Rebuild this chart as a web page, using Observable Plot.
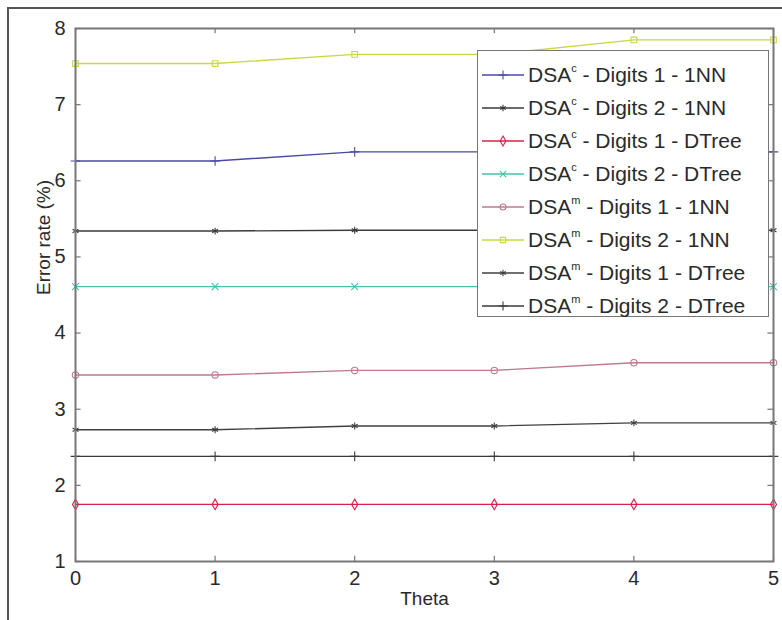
<!DOCTYPE html>
<html><head><meta charset="utf-8">
<script src="https://cdn.jsdelivr.net/npm/d3@7"></script>
<script src="https://cdn.jsdelivr.net/npm/@observablehq/plot@0.6"></script>
<style>
html,body{margin:0;padding:0;background:#fff;}
#wrap{position:relative;width:782px;height:620px;overflow:hidden;font-family:"Liberation Sans",Arial,sans-serif;}
#border{position:absolute;left:7px;top:7px;width:800px;height:640px;border-left:2px solid #555;border-top:2px solid #555;}
#chart{position:absolute;left:0;top:0;}
#legend{position:absolute;left:477px;top:50px;width:292px;height:267px;background:#fff;border:1.5px solid #777;box-sizing:border-box;padding-top:7px;}
.row{height:33px;display:flex;align-items:center;font-size:21px;color:#2a2a2a;white-space:nowrap;}
.row svg{margin-left:4px;margin-right:4px;flex:none;}
.row sup{font-size:11px;vertical-align:10px;line-height:0;}
</style>
</head><body>
<div id="wrap"><div id="border"></div><div id="chart"></div><div id="legend"></div></div>
<script>
const theta = [0, 1, 2, 3, 4, 5];
const xTicks = [0, 1, 2, 3, 4, 5];
const yTicks = [1, 2, 3, 4, 5, 6, 7, 8];
const methods = ["c", "c", "c", "c", "m", "m", "m", "m"];
const restNames = ["Digits 1 - 1NN", "Digits 2 - 1NN", "Digits 1 - DTree", "Digits 2 - DTree",
                   "Digits 1 - 1NN", "Digits 2 - 1NN", "Digits 1 - DTree", "Digits 2 - DTree"];
const seriesNames = restNames.map((r, i) => "DSA" + methods[i] + " - " + r);
const colors = ["#4a4aa8", "#3a3a3a", "#d8204c", "#46c2ae", "#c07890", "#cad844", "#404040", "#3a3a3a"];
const symbols = ["plus", "asterisk", "diamond", "times", "circle", "square", "asterisk", "plus"];

const dsaC_d1_1nn   = [6.26, 6.26, 6.38, 6.38, 6.38, 6.38];
const dsaC_d2_1nn   = [5.34, 5.34, 5.35, 5.35, 5.35, 5.35];
const dsaC_d1_dtree = [1.75, 1.75, 1.75, 1.75, 1.75, 1.75];
const dsaC_d2_dtree = [4.61, 4.61, 4.61, 4.61, 4.61, 4.61];
const dsaM_d1_1nn   = [3.45, 3.45, 3.51, 3.51, 3.61, 3.61];
const dsaM_d2_1nn   = [7.54, 7.54, 7.66, 7.66, 7.85, 7.85];
const dsaM_d1_dtree = [2.73, 2.73, 2.78, 2.78, 2.82, 2.82];
const dsaM_d2_dtree = [2.38, 2.38, 2.38, 2.38, 2.38, 2.38];

const allSeries = [dsaC_d1_1nn, dsaC_d2_1nn, dsaC_d1_dtree, dsaC_d2_dtree,
                   dsaM_d1_1nn, dsaM_d2_1nn, dsaM_d1_dtree, dsaM_d2_dtree];
const data = [];
allSeries.forEach((vals, i) => vals.forEach((v, j) => data.push({series: seriesNames[i], theta: theta[j], value: v})));

const plot = Plot.plot({
  width: 782, height: 620,
  marginLeft: 75, marginRight: 9, marginTop: 28, marginBottom: 59,
  style: {fontFamily: "'Liberation Sans', Arial, sans-serif", fontSize: "20px", background: "transparent", color: "#2a2a2a"},
  x: {domain: [0, 5], label: null},
  y: {domain: [1, 8], label: null},
  color: {domain: seriesNames, range: colors},
  symbol: {domain: seriesNames, range: symbols},
  marks: [
    Plot.ruleY(yTicks, {y: d => d, x1: 0, x2: 0.04, stroke: "#777", strokeWidth: 1.2}),
    Plot.ruleY(yTicks, {y: d => d, x1: 4.96, x2: 5, stroke: "#777", strokeWidth: 1.2}),
    Plot.ruleX(xTicks, {x: d => d, y1: 1, y2: 1.07, stroke: "#777", strokeWidth: 1.2}),
    Plot.ruleX(xTicks, {x: d => d, y1: 7.93, y2: 8, stroke: "#777", strokeWidth: 1.2}),
    Plot.line(data, {x: "theta", y: "value", z: "series", stroke: "series", strokeWidth: 1.4}),
    Plot.dot(data, {x: "theta", y: "value", stroke: "series", symbol: "series", r: 3.2, fill: "none", strokeWidth: 1.1}),
    Plot.frame({stroke: "#777", strokeWidth: 2}),
    Plot.axisX({ticks: xTicks, tickSize: 0, tickPadding: 9, tickFormat: d => d}),
    Plot.axisY({ticks: yTicks, tickSize: 0, tickPadding: 10, tickFormat: d => d}),
    Plot.text(["Theta"], {frameAnchor: "bottom", dy: 43, text: d => d, fontSize: 19}),
    Plot.text(["Error rate (%)"], {frameAnchor: "left", dx: -32, rotate: -90, text: d => d, fontSize: 19})
  ]
});
document.getElementById("chart").appendChild(plot);

const legend = document.getElementById("legend");
const d3sym = {plus: d3.symbolPlus, asterisk: d3.symbolAsterisk || d3.symbolPlus, diamond: d3.symbolDiamond,
  times: d3.symbolTimes, circle: d3.symbolCircle, square: d3.symbolSquare};
seriesNames.forEach((name, i) => {
  const row = document.createElement("div");
  row.className = "row";
  const path = d3.symbol(d3sym[symbols[i]] || d3.symbolPlus, 28)();
  row.innerHTML = `<svg width="42" height="20"><line x1="0" x2="42" y1="10" y2="10" stroke="${colors[i]}" stroke-width="1.4"/>` +
    `<path d="${path}" transform="translate(21,10)" fill="none" stroke="${colors[i]}" stroke-width="1.1"/></svg>` +
    `<span>DSA<sup>${methods[i]}</sup> - ${restNames[i]}</span>`;
  legend.appendChild(row);
});
</script>
</body></html>
